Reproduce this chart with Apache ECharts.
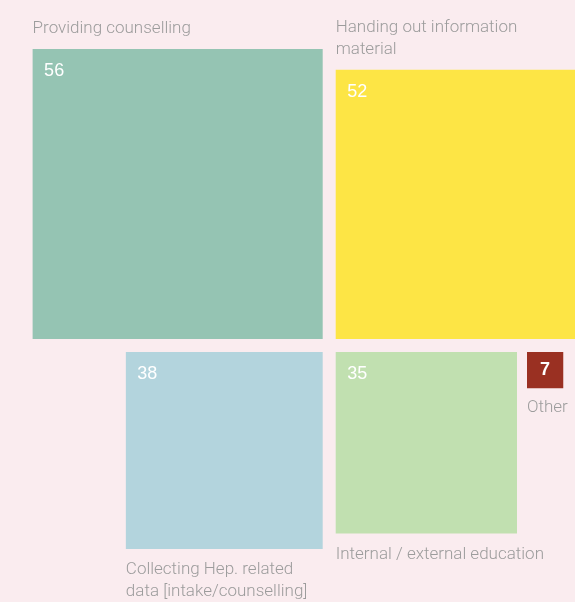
<!DOCTYPE html>
<html>
<head>
<meta charset="utf-8">
<script src="https://cdn.jsdelivr.net/npm/echarts@6/dist/echarts.min.js"></script>
<style>
  html, body { margin: 0; padding: 0; background: #faecef; }
  #chart { width: 575px; height: 602px; }
</style>
</head>
<body>
<div id="chart"></div>
<script>
// data
const categories = [
  'Providing counselling',
  'Handing out information\nmaterial',
  'Collecting Hep. related\ndata [intake/counselling]',
  'Internal / external education',
  'Other'
];
const values = [56, 52, 38, 35, 7];

// styles
const colors = ['#95c4b3', '#fde545', '#b3d4dd', '#c1e0b0', '#9a3022'];
const labelFont = 'Roboto, "Helvetica Neue", sans-serif';
const numberFont = '"Helvetica Neue", "Liberation Sans", Arial, sans-serif';

// layout: square side is linear in value, 5.18px per unit, squares around a centre point
const PX = 5.18;
const CX = 329.2;
const CY = 345.6;
const GAP = 13;

const renderItem = (params, api) => {
  const i = params.dataIndex;
  const c = api.coord([0, 0]);
  const side = api.size([api.value(0), 0])[0];
  const h = GAP / 2;
  let x, y;
  if (i === 0) { x = c[0] - h - side; y = c[1] - h - side; }
  else if (i === 1) { x = c[0] + h; y = c[1] - h - side; }
  else if (i === 2) { x = c[0] - h - side; y = c[1] + h; }
  else if (i === 3) { x = c[0] + h; y = c[1] + h; }
  else {
    const prev = api.size([values[3], 0])[0];
    x = c[0] + h + prev + 10; y = c[1] + h;
  }
  const above = i < 2;
  const small = side < 50;
  return {
    type: 'group',
    children: [
      {
        type: 'rect',
        shape: { x: x, y: y, width: side, height: side },
        style: { fill: colors[i] }
      },
      {
        type: 'text',
        style: {
          text: String(values[i]),
          x: small ? x + side / 2 : x + 11.5,
          y: small ? y + side / 2 : y + 13,
          align: small ? 'center' : 'left',
          verticalAlign: small ? 'middle' : 'top',
          fill: '#ffffff',
          fontSize: 18,
          fontWeight: small ? 'bold' : 'normal',
          fontFamily: numberFont
        }
      },
      {
        type: 'text',
        style: {
          text: categories[i],
          x: x,
          y: above ? y - 9 : y + side + (small ? 8 : 10),
          align: 'left',
          verticalAlign: above ? 'bottom' : 'top',
          fill: '#9c9c9c',
          fontSize: 17,
          fontWeight: 300,
          lineHeight: 22,
          fontFamily: labelFont
        }
      }
    ]
  };
};

const chart = echarts.init(document.getElementById('chart'));
chart.setOption({
  backgroundColor: '#faecef',
  animation: false,
  grid: { left: 0, right: 0, top: 0, bottom: 0 },
  xAxis: { type: 'value', min: -CX / PX, max: (575 - CX) / PX, show: false },
  yAxis: { type: 'value', min: -(602 - CY) / PX, max: CY / PX, show: false },
  series: [
    {
      type: 'custom',
      renderItem: renderItem,
      data: values.map((v, i) => [v, i]),
      encode: { x: -1, y: -1 }
    }
  ]
});
</script>
</body>
</html>
